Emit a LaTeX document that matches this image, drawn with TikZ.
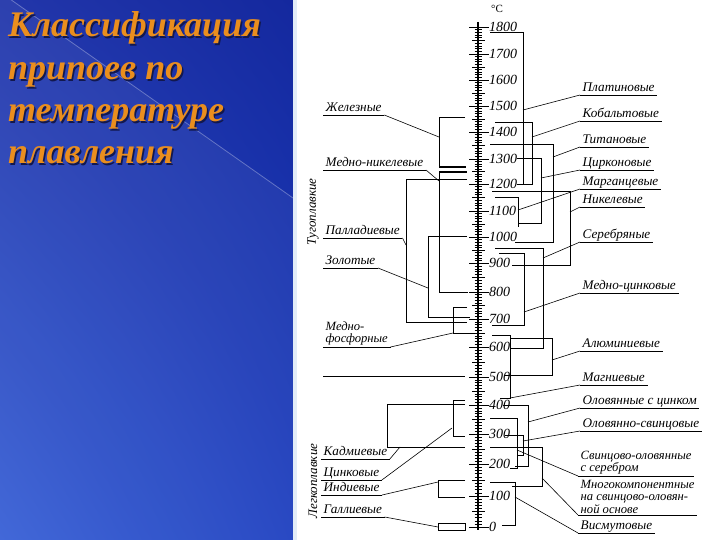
\documentclass[tikz,border=0pt]{standalone}
\usepackage{fontspec}
\setmainfont{Liberation Serif}
\usetikzlibrary{shadings}

\definecolor{titleorange}{RGB}{234,142,30}
\definecolor{titleshadow}{RGB}{18,24,78}
\definecolor{slidetl}{RGB}{34,54,170}
\definecolor{slidetr}{RGB}{20,40,158}
\definecolor{slidebl}{RGB}{56,96,214}
\definecolor{slidebr}{RGB}{30,64,192}
\definecolor{edgeblue}{RGB}{226,236,248}

\tikzset{
  ttl/.style={anchor=base west, inner sep=0pt, text=titleorange,
    font=\fontsize{36}{40}\selectfont\bfseries\itshape},
  ttlshade/.style={ttl, text=titleshadow},
  spine/.style={line width=1.3pt},
  tick/.style={line width=0.6pt},
  num/.style={anchor=west, inner sep=1pt, font=\fontsize{14}{14}\selectfont\itshape},
  lbl/.style={anchor=south west, inner xsep=2.5pt, inner ysep=1.2pt,
    text height=9pt, text depth=2.5pt, font=\fontsize{13.2}{13.2}\selectfont\itshape},
  lblm/.style={lbl, align=left, text height=, text depth=,
    font=\fontsize{12.6}{12.6}\selectfont\itshape},
  grp/.style={font=\fontsize{13}{13}\selectfont\itshape, rotate=90, inner sep=0pt},
  bracket/.style={line width=0.9pt},
  thickend/.style={line width=1.9pt},
  leader/.style={line width=0.6pt}
}

\begin{document}
\begin{tikzpicture}[x=1pt,y=-1pt]
\useasboundingbox (0,0) rectangle (720,540);
\fill[white] (0,0) rectangle (720,540);

% slide background
\shade[upper left=slidetl, upper right=slidetr, lower left=slidebl, lower right=slidebr]
  (0,0) rectangle (293,540);
\fill[white, opacity=0.05] (0,-8) -- (293,198) -- (293,540) -- (0,540) -- cycle;
\draw[white, opacity=0.3, line width=0.8pt] (0,-8) -- (293,198);
\fill[edgeblue] (293,0) rectangle (297,540);

% title
\foreach \txt/\yy [count=\i] in {Классификация/37, припоев по/80, температуре/122, плавления/164}{
  \node[ttlshade] at (9.5,{\yy+1.5}) {\txt};
  \node[ttl] (title\i) at (8,\yy) {\txt};
}

% temperature scale
\draw[spine] (478,22) -- (478,530);
\foreach \ya/\yb in {27/54,54/80,80/106,106/132,132/159,159/184,184/211,211/237,237/263,
    263/292,292/319,319/347,347/377,377/405,405/434,434/464,464/496,496/527}{
  \foreach \k in {1,...,9}{
    \pgfmathsetmacro\yy{\ya+(\yb-\ya)*\k/10}
    \ifnum\k=5
      \draw[tick] (472,\yy) -- (485,\yy);
    \else
      \draw[tick] (474.5,\yy) -- (482,\yy);
    \fi
  }
}
\foreach \t/\yy in {1800/27,1700/54,1600/80,1500/106,1400/132,1300/159,1200/184,1100/211,
    1000/237,900/263,800/292,700/319,600/347,500/377,400/405,300/434,200/464,100/496,0/527}{
  \draw[tick] (469,\yy) -- (489,\yy);
  \node[num] (t\t) at (488,\yy) {\t};
}
\node[font=\fontsize{11}{11}\selectfont, inner sep=0pt] (unit) at (497,9) {°C};

% group names
\node[grp] (refr) at (313,212) {Тугоплавкие};
\node[grp] (fusib) at (313,481) {Легкоплавкие};

% left brackets
\draw[bracket] (465,117) -- (439,117) -- (439,167);
\draw[thickend] (439,167) -- (466,167);
\draw[bracket] (439,172) -- (439,292) -- (468,292);
\draw[thickend] (439,172) -- (467,172);
\draw[bracket] (467,179) -- (406,179) -- (406,322) -- (467,322);
\draw[bracket] (467,236) -- (428,236) -- (428,317) -- (470,317);
\draw[bracket] (467,307) -- (453,307) -- (453,333) -- (473,333);
\draw[bracket] (323,376) -- (465,376);
\draw[bracket] (465,404) -- (387,404) -- (387,447) -- (465,447);
\draw[bracket] (465,400) -- (453,400) -- (453,436) -- (465,436);
\draw[bracket] (465,480) -- (438,480) -- (438,497) -- (465,497);
\draw[bracket] (438,523) rectangle (465,530);

\coordinate (c-fe) at (439,137);
\coordinate (c-cuni) at (439,181);
\coordinate (c-pd) at (406,245);
\coordinate (c-au) at (428,288);
\coordinate (c-cup) at (453,333);
\coordinate (c-cd) at (400,447);
\coordinate (c-zn) at (452,428);
\coordinate (c-ind) at (438,482);
\coordinate (c-ga) at (438,527);

% right brackets
\draw[bracket] (490,32) -- (523,32) -- (523,184) -- (517,184);
\draw[bracket] (495,122) -- (532,122) -- (532,184) -- (517,184);
\draw[bracket] (490,144) -- (553,144) -- (553,242) -- (515,242);
\draw[bracket] (517,158) -- (541,158) -- (541,223) -- (518,223);
\draw[bracket] (495,197) -- (518,197) -- (518,227);
\draw[bracket] (492,191) -- (570,191) -- (570,265) -- (512,265);
\draw[bracket] (495,248) -- (543,248) -- (543,348) -- (510,348);
\draw[bracket] (499,253) -- (524,253) -- (524,325) -- (492,325);
\draw[bracket] (510,338) -- (552,338) -- (552,375) -- (505,375);
\draw[bracket] (492,335) -- (510,335) -- (510,398) -- (500,398);
\draw[bracket] (503,405) -- (528,405) -- (528,466) -- (515,466);
\draw[bracket] (505,435) -- (523,435) -- (523,455) -- (517,455);
\draw[bracket] (490,418) -- (517,418) -- (517,468) -- (510,468);
\draw[bracket] (490,447) -- (542,447) -- (542,486) -- (512,486);
\draw[bracket] (490,482) -- (515,482) -- (515,525) -- (502,525);

\coordinate (c-pt) at (523,110);
\coordinate (c-co) at (532,137);
\coordinate (c-ti) at (553,157);
\coordinate (c-zr) at (541,178);
\coordinate (c-mn) at (518,210);
\coordinate (c-ni) at (570,212);
\coordinate (c-ag) at (543,258);
\coordinate (c-cuzn) at (524,312);
\coordinate (c-al) at (552,360);
\coordinate (c-mg) at (510,398);
\coordinate (c-snzn) at (528,422);
\coordinate (c-snpb) at (523,441);
\coordinate (c-pbsnag) at (517,450);
\coordinate (c-multi) at (542,478);
\coordinate (c-bi) at (515,497);

% labels, left
\node[lbl] (fe) at (323,115) {Железные};
\node[lbl] (cuni) at (323,170) {Медно-никелевые};
\node[lbl] (pd) at (323,238) {Палладиевые};
\node[lbl] (au) at (323,268) {Золотые};
\node[lblm] (cup) at (323,347) {Медно-\\фосфорные};
\node[lbl] (cd) at (321,459) {Кадмиевые};
\node[lbl] (zn) at (321,480) {Цинковые};
\node[lbl] (ind) at (321,495) {Индиевые};
\node[lbl] (ga) at (321,517) {Галлиевые};

% labels, right
\node[lbl] (pt) at (580,95) {Платиновые};
\node[lbl] (co) at (580,121) {Кобальтовые};
\node[lbl] (ti) at (580,147) {Титановые};
\node[lbl] (zr) at (580,170) {Цирконовые};
\node[lbl] (mn) at (580,189) {Марганцевые};
\node[lbl] (ni) at (580,207) {Никелевые};
\node[lbl] (ag) at (580,242) {Серебряные};
\node[lbl] (cuzn) at (580,293) {Медно-цинковые};
\node[lbl] (al) at (580,351) {Алюминиевые};
\node[lbl] (mg) at (580,385) {Магниевые};
\node[lbl] (snzn) at (580,408) {Оловянные с цинком};
\node[lbl] (snpb) at (580,431) {Оловянно-свинцовые};
\node[lblm] (pbsnag) at (578,476) {Свинцово-оловянные\\с серебром};
\node[lblm] (multi) at (578,515) {Многокомпонентные\\на свинцово-оловян-\\ной основе};
\node[lbl] (bi) at (578,533) {Висмутовые};

% underlines and leaders
\foreach \n in {fe,cuni,pd,au,cup,cd,zn,ind,ga,pt,co,ti,zr,mn,ni,ag,cuzn,al,mg,snzn,snpb,pbsnag,multi,bi}
  \draw[leader] (\n.south west) -- (\n.south east);
\foreach \n in {fe,cuni,pd,au,cup,cd,zn,ind,ga}
  \draw[leader] (\n.south east) -- (c-\n);
\foreach \n in {pt,co,ti,zr,mn,ni,ag,cuzn,al,mg,snzn,snpb,pbsnag,multi,bi}
  \draw[leader] (c-\n) -- (\n.south west);

\end{tikzpicture}
\end{document}
